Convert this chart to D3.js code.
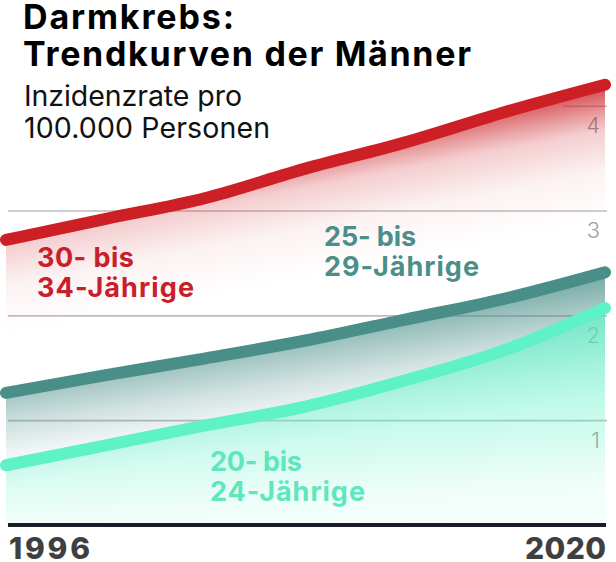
<!DOCTYPE html>
<html><head><meta charset="utf-8">
<script src="https://cdn.jsdelivr.net/npm/d3@7"></script>
<style>body{margin:0;background:#fff}svg{display:block}</style>
</head><body><svg id="c" width="616" height="562"></svg>
<script>
// ---- data ----
const years = [1996, 2000, 2004, 2008, 2012, 2016, 2020];
const rate30to34 = [2.72, 2.92, 3.12, 3.40, 3.65, 3.94, 4.20];
const rate25to29 = [1.26, 1.43, 1.59, 1.76, 1.96, 2.16, 2.41];
const rate20to24 = [0.57, 0.76, 0.95, 1.13, 1.38, 1.67, 2.07];
const yTicks = [1, 2, 3, 4];
const xTickYears = [1996, 2020];
const labels30to34 = ["30- bis", "34-Jährige"];
const labels25to29 = ["25- bis", "29-Jährige"];
const labels20to24 = ["20- bis", "24-Jährige"];
const titleLines = ["Darmkrebs:", "Trendkurven der Männer"];
const subtitleLines = ["Inzidenzrate pro", "100.000 Personen"];

// ---- layout ----
const svg = d3.select("#c");
const x = d3.scaleLinear().domain([1996, 2020]).range([6, 605]);
const y = d3.scaleLinear().domain([0, 4]).range([525, 105.7]);
const FONT = "Inter, 'Liberation Sans', Arial, sans-serif";

// fit a single-line text to a target pixel width using letter-spacing
function fit(t, w) {
  t.style("letter-spacing", "0px");
  const len = t.node().getComputedTextLength();
  const n = t.text().length;
  t.style("letter-spacing", ((w - len) / Math.max(1, n - 1)) + "px");
}

// gradient whose iso-lines are slanted: zero line from left (zL) to right (zR);
// stops given as [vertical distance above zero line, opacity]
function slantGrad(id, color, zL, zR, stops) {
  const [xa, xb] = x.range();
  const m = (zR - zL) / (xb - xa);
  const len = Math.hypot(1, m);
  const ux = -m / len, uy = 1 / len;
  const D = d3.max(stops, s => s[0]);
  const P2 = [xb, zR];
  const Lp = D / len;
  const P1 = [P2[0] - Lp * ux, P2[1] - Lp * uy];
  const g = defs.append("linearGradient").attr("id", id).attr("gradientUnits", "userSpaceOnUse")
    .attr("x1", P1[0]).attr("y1", P1[1]).attr("x2", P2[0]).attr("y2", P2[1]);
  stops.slice().sort((a, b) => b[0] - a[0]).forEach(s =>
    g.append("stop").attr("offset", 1 - s[0] / D).attr("stop-color", color).attr("stop-opacity", s[1]));
}

const defs = svg.append("defs");
const series = [
  {vals: rate30to34, color: "#cc1f26", lc: "#c8202a", labels: labels30to34,
   lx: 37, ly: 267, lw: [97, 157]},
  {vals: rate25to29, color: "#4a8e88", lc: "#4a8f8a", labels: labels25to29,
   lx: 324, ly: 246, lw: [92, 155]},
  {vals: rate20to24, color: "#5ef2c6", lc: "#5fe6bd", labels: labels20to24,
   lx: 210, ly: 471, lw: [92, 155]}
];
slantGrad("g0", series[0].color, 335, 220, [[135, 0.82], [106, 0.42], [90, 0.22], [50, 0.06], [0, 0]]);
slantGrad("g1", series[1].color, 485, 395, [[123, 0.78], [92, 0.52], [60, 0.26], [30, 0.08], [0, 0]]);
slantGrad("g2", series[2].color, 560, 520, [[212, 0.7], [150, 0.5], [95, 0.3], [40, 0.1], [0, 0.06]]);

// gridlines + tick labels
const yAxis = d3.axisRight(y).tickValues(yTicks).tickSize(599).tickFormat(d3.format("d"));
const ax = svg.append("g").attr("transform", "translate(8,0)").call(yAxis);
ax.select(".domain").remove();
ax.selectAll(".tick line").attr("stroke", "#bdbdbd").attr("stroke-width", 1.6);
ax.selectAll(".tick text").attr("x", 592).attr("dy", 27).attr("text-anchor", "end")
  .attr("fill", "#9c9c9c").style("font-family", FONT).style("font-size", "22px").style("font-weight", 300);

// header backdrop (hides top gridline behind the title block)
svg.append("rect").attr("x", 0).attr("y", 0).attr("width", 563).attr("height", 150).attr("fill", "#fff");

// areas
series.forEach((s, i) => {
  const area = d3.area().x((d, j) => x(years[j])).y0(y(0)).y1(d => y(d)).curve(d3.curveMonotoneX);
  svg.append("path").datum(s.vals).attr("d", area).attr("fill", `url(#g${i})`);
});

// baseline
svg.append("line").attr("x1", 8).attr("x2", 606).attr("y1", y(0)).attr("y2", y(0))
  .attr("stroke", "#1c1c28").attr("stroke-width", 4);

// lines
series.forEach(s => {
  const line = d3.line().x((d, j) => x(years[j])).y(d => y(d)).curve(d3.curveMonotoneX);
  svg.append("path").datum(s.vals).attr("d", line).attr("fill", "none")
    .attr("stroke", s.color).attr("stroke-width", 12).attr("stroke-linecap", "round").attr("stroke-linejoin", "round");
});

// series labels
series.forEach(s => {
  s.labels.forEach((l, k) => {
    const t = svg.append("text").attr("x", s.lx).attr("y", s.ly + k * 30).attr("fill", s.lc)
      .style("font-family", FONT).style("font-size", "27px").style("font-weight", 700).text(l);
    fit(t, s.lw[k]);
  });
});

// title + subtitle
const titleW = [211, 448];
titleLines.forEach((l, k) => {
  const t = svg.append("text").attr("x", 23).attr("y", 29 + k * 37).attr("fill", "#000")
    .style("font-family", FONT).style("font-size", "34px").style("font-weight", 700).text(l);
  fit(t, titleW[k]);
});
const subW = [218, 246];
subtitleLines.forEach((l, k) => {
  const t = svg.append("text").attr("x", 24).attr("y", 106 + k * 32).attr("fill", "#111")
    .style("font-family", FONT).style("font-size", "28.5px").style("font-weight", 400).text(l);
  fit(t, subW[k]);
});

// x labels
xTickYears.forEach((yr, k) => {
  const t = svg.append("text").attr("x", k === 0 ? 9 : 606 - 81).attr("y", 559)
    .style("font-family", FONT).style("font-size", "30px").style("font-weight", 800)
    .attr("fill", "#3f3f3f").text(String(yr));
  fit(t, 81);
});
</script></body></html>
